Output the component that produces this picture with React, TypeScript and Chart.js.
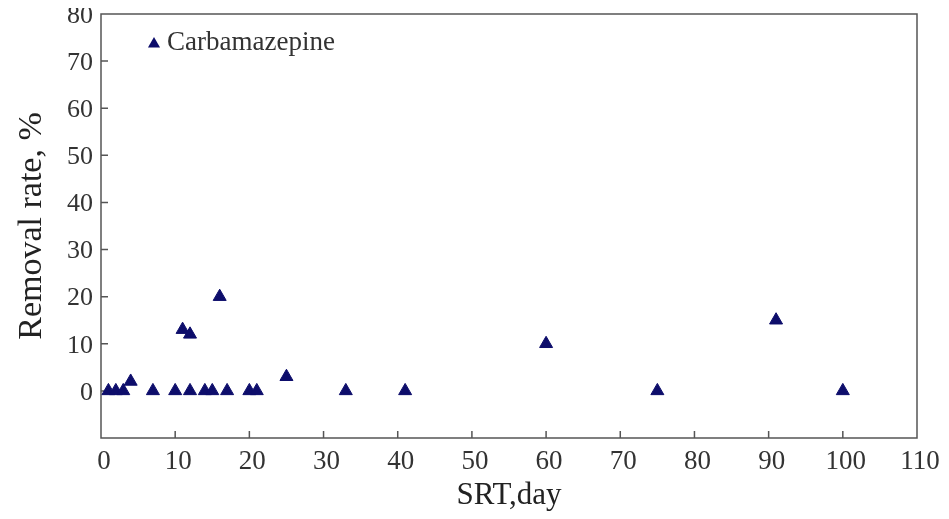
import React, { useEffect, useRef } from 'react';
import { Chart, registerables } from 'chart.js';

Chart.register(...registerables);

// ---- data ----
const srtDays = [1, 2, 3, 4, 7, 10, 11, 12, 12, 14, 15, 16, 17, 20, 21, 25, 33, 41, 60, 75, 91, 100];
const removalRates = [0, 0, 0, 2, 0, 0, 13, 12, 0, 0, 0, 20, 0, 0, 0, 3, 0, 0, 10, 0, 15, 0];
const seriesLabel = 'Carbamazepine';
const xTitle = 'SRT,day';
const yTitle = 'Removal rate, %';
const xMin = 0;
const xMax = 110;
const yMin = -10;
const yMax = 80;
const xTickMarks = [10, 20, 30, 40, 50, 60, 70, 80, 90, 100];
const yTickMarks = [0, 10, 20, 30, 40, 50, 60, 70];

const FONT = "'Liberation Serif', 'Times New Roman', serif";
const TEXT = '#333333';
const MARK = '#0d0d6b';
const FRAME = '#555555';

const framePlugin = {
  id: 'frameAndLegend',
  beforeDatasetsDraw(chart: any) {
    const { ctx, chartArea, scales } = chart;
    const { left, top, right, bottom } = chartArea;
    ctx.save();
    ctx.strokeStyle = FRAME;
    ctx.lineWidth = 1.5;
    ctx.strokeRect(left, top, right - left, bottom - top);
    ctx.beginPath();
    xTickMarks.forEach((v) => {
      const px = scales.x.getPixelForValue(v);
      ctx.moveTo(px, bottom);
      ctx.lineTo(px, bottom - 7);
    });
    yTickMarks.forEach((v) => {
      const py = scales.y.getPixelForValue(v);
      ctx.moveTo(left, py);
      ctx.lineTo(left + 7, py);
    });
    ctx.stroke();
    ctx.restore();
  },
  afterDraw(chart: any) {
    const { ctx, chartArea } = chart;
    const ds = chart.data.datasets[0];
    const mx = chartArea.left + 53;
    const my = chartArea.top + 30;
    const r = 7;
    ctx.save();
    ctx.fillStyle = ds.backgroundColor;
    ctx.beginPath();
    for (let i = 0; i < 3; i++) {
      const a = (i * 2 * Math.PI) / 3;
      const px = mx + Math.sin(a) * r;
      const py = my - Math.cos(a) * r;
      if (i === 0) ctx.moveTo(px, py);
      else ctx.lineTo(px, py);
    }
    ctx.closePath();
    ctx.fill();
    ctx.fillStyle = TEXT;
    ctx.font = `27px ${FONT}`;
    ctx.textBaseline = 'middle';
    ctx.textAlign = 'left';
    ctx.fillText(ds.label, chartArea.left + 66, my - 1);
    ctx.restore();
  },
};

export default function App() {
  const canvasRef = useRef<HTMLCanvasElement | null>(null);

  useEffect(() => {
    if (!canvasRef.current) return;
    const chart = new Chart(canvasRef.current, {
      type: 'scatter',
      data: {
        datasets: [
          {
            label: seriesLabel,
            data: srtDays.map((d, i) => ({ x: d, y: removalRates[i] })),
            pointStyle: 'triangle',
            pointRadius: 7.5,
            pointHoverRadius: 7.5,
            backgroundColor: MARK,
            borderColor: MARK,
            borderWidth: 1,
          },
        ],
      },
      options: {
        animation: false,
        responsive: true,
        maintainAspectRatio: false,
        layout: { padding: { top: 14, right: 32, bottom: 0, left: 0 } },
        plugins: {
          legend: { display: false },
          tooltip: { enabled: false },
        },
        scales: {
          x: {
            type: 'linear',
            min: xMin,
            max: xMax,
            ticks: {
              stepSize: 10,
              autoSkip: false,
              maxRotation: 0,
              padding: 8,
              labelOffset: 3,
              color: TEXT,
              font: { family: FONT, size: 27 },
            },
            grid: { display: false, drawTicks: false },
            border: { display: false },
            title: {
              display: true,
              text: xTitle,
              color: '#222222',
              font: { family: FONT, size: 31 },
              padding: { top: 0, bottom: 5 },
            },
            afterFit: (s: any) => {
              s.height = 81;
              s.paddingLeft = 0;
              s.paddingRight = 0;
            },
          },
          y: {
            type: 'linear',
            min: yMin,
            max: yMax,
            ticks: {
              stepSize: 10,
              autoSkip: false,
              padding: 8,
              labelOffset: 2,
              color: TEXT,
              font: { family: FONT, size: 26 },
              callback: (v: any) => (Number(v) < 0 ? '' : String(v)),
            },
            grid: { display: false, drawTicks: false },
            border: { display: false },
            title: {
              display: true,
              text: yTitle,
              color: '#222222',
              font: { family: FONT, size: 34 },
              padding: { top: 12, bottom: 0 },
            },
            afterFit: (s: any) => {
              s.width = 101;
              s.paddingTop = 0;
              s.paddingBottom = 0;
            },
          },
        },
      },
      plugins: [framePlugin],
    });
    return () => chart.destroy();
  }, []);

  return (
    <div style={{ position: 'relative', width: 949, height: 519, margin: -8 }}>
      <canvas ref={canvasRef} />
    </div>
  );
}
